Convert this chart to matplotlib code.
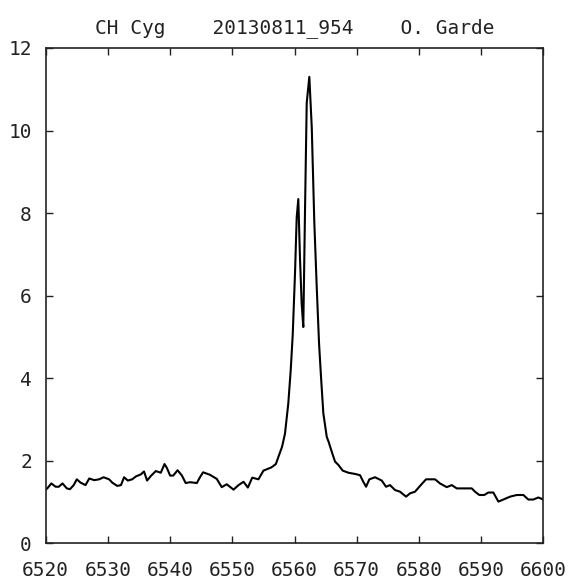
import matplotlib
matplotlib.use("Agg")
import matplotlib.pyplot as plt

# spectrum (wavelength in Angstrom, relative flux)
wavelength = [6520.0, 6520.26, 6520.9, 6521.6, 6522.1, 6522.7, 6523.4, 6523.9, 6524.5,
              6525.0, 6525.6, 6526.4, 6527.0, 6527.8, 6528.6, 6529.3, 6530.2, 6530.7,
              6531.5, 6532.1, 6532.6, 6533.2, 6533.9, 6534.5, 6535.3, 6535.8, 6536.3,
              6536.9, 6537.7, 6538.5, 6539.1, 6539.5, 6540.0, 6540.5, 6541.2, 6541.9,
              6542.5, 6543.2, 6544.3, 6544.8, 6545.3, 6546.4, 6547.5, 6548.3, 6549.1,
              6550.2, 6551.0, 6551.8, 6552.5, 6553.2, 6554.2, 6555.0, 6556.3, 6557.0,
              6557.4, 6558.0, 6558.47, 6559.0, 6559.39, 6559.71, 6560.08, 6560.35,
              6560.61, 6560.88, 6561.15, 6561.41, 6561.69, 6561.96, 6562.38, 6562.77,
              6563.18, 6563.57, 6563.94, 6564.26, 6564.63, 6565.18, 6565.5, 6565.98,
              6566.51, 6567.04, 6567.75, 6568.65, 6569.73, 6570.53, 6571.06, 6571.5,
              6572.03, 6572.94, 6574.02, 6574.71, 6575.35, 6576.16, 6576.96, 6577.93,
              6578.57, 6579.37, 6580.18, 6581.14, 6582.59, 6583.39, 6584.47, 6585.27,
              6586.08, 6588.49, 6589.02, 6589.71, 6590.5, 6591.16, 6591.96, 6592.77,
              6593.57, 6594.65, 6595.72, 6596.79, 6597.59, 6598.39, 6599.2, 6600.0]
flux = [1.30, 1.33, 1.45, 1.37, 1.37, 1.45, 1.33, 1.31, 1.41,
        1.55, 1.47, 1.41, 1.57, 1.53, 1.55, 1.60, 1.55, 1.47,
        1.39, 1.41, 1.60, 1.52, 1.55, 1.62, 1.67, 1.74, 1.52,
        1.63, 1.75, 1.71, 1.92, 1.82, 1.64, 1.64, 1.77, 1.64,
        1.46, 1.48, 1.46, 1.60, 1.72, 1.66, 1.56, 1.36, 1.43,
        1.30, 1.41, 1.49, 1.35, 1.59, 1.55, 1.76, 1.84, 1.92,
        2.09, 2.34, 2.66, 3.39, 4.20, 5.05, 6.55, 7.90,
        8.34, 6.90, 5.80, 5.24, 8.10, 10.67, 11.30, 10.08,
        7.78, 6.21, 4.85, 4.03, 3.15, 2.58, 2.45, 2.22,
        1.98, 1.90, 1.76, 1.71, 1.68, 1.65, 1.49, 1.37,
        1.55, 1.60, 1.52, 1.37, 1.41, 1.29, 1.25, 1.13,
        1.21, 1.25, 1.39, 1.55, 1.55, 1.45, 1.36, 1.41,
        1.33, 1.33, 1.25, 1.17, 1.17, 1.23, 1.23, 1.01,
        1.06, 1.13, 1.17, 1.17, 1.06, 1.06, 1.11, 1.06]

x_ticks = [6520, 6530, 6540, 6550, 6560, 6570, 6580, 6590, 6600]
y_ticks = [0, 2, 4, 6, 8, 10, 12]
title = "CH Cyg    20130811_954    O. Garde"

plt.rcParams['font.family'] = ['DejaVu Sans Mono']

fig = plt.figure(figsize=(5.72, 5.81), dpi=100)
ax = fig.add_axes([0.0799, 0.0649, 0.870, 0.8525])

ax.plot(wavelength, flux, color='black', lw=1.5)

ax.set_xlim(6520, 6600)
ax.set_ylim(0, 12)
ax.set_xticks(x_ticks)
ax.set_yticks(y_ticks)
ax.tick_params(direction='in', length=5, width=1, labelsize=14, colors='#222222',
               top=True, right=True)
ax.tick_params(axis='x', pad=13)
ax.tick_params(axis='y', pad=10)
for s in ax.spines.values():
    s.set_linewidth(1.2)
    s.set_color('#222222')

ax.set_title(title, fontsize=14, pad=11, color='#222222')

fig.savefig("out.png", dpi=100)
